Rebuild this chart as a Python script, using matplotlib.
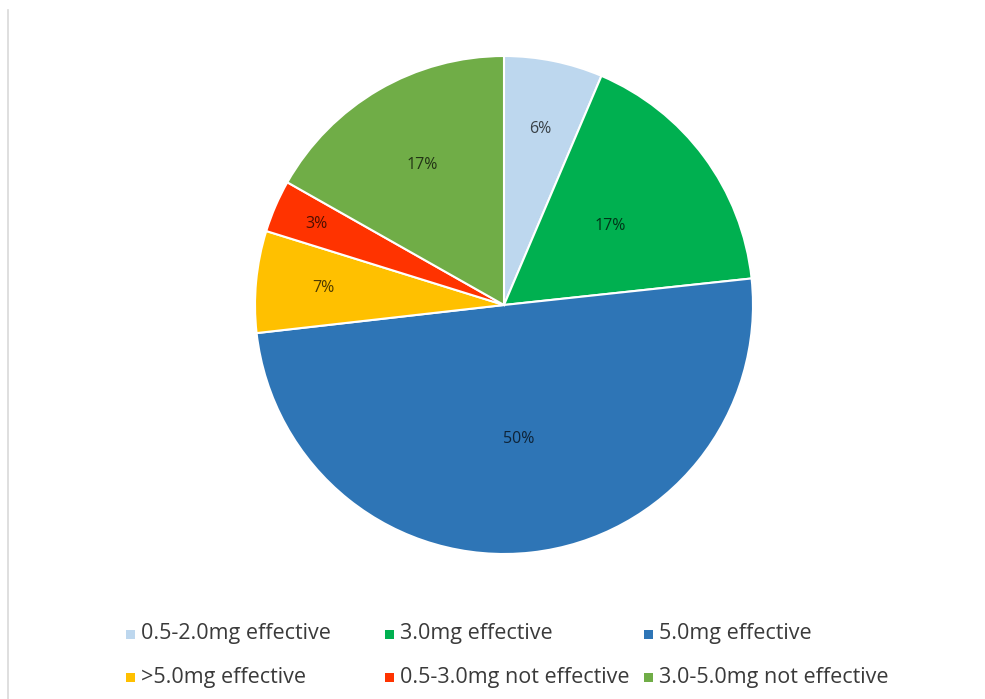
import numpy as np
import matplotlib.pyplot as plt
from matplotlib.patches import Rectangle
from matplotlib.lines import Line2D
from matplotlib.colors import to_rgb

labels = ['0.5-2.0mg effective', '3.0mg effective', '5.0mg effective',
          '>5.0mg effective', '0.5-3.0mg not effective', '3.0-5.0mg not effective']
values = [6.4, 16.9, 49.9, 6.6, 3.4, 16.8]
colors = ['#BDD7EE', '#00B050', '#2E75B6', '#FFC000', '#FF3300', '#70AD47']
# radial position of each percentage label (fraction of radius)
label_r = [0.72, 0.53, 0.54, 0.73, 0.82, 0.65]

plt.rcParams['font.family'] = ['Open Sans', 'DejaVu Sans']

W, H = 985, 699
fig = plt.figure(figsize=(W / 100, H / 100), dpi=100)
fig.patch.set_facecolor('white')

# pie axes: centre (504, 305) px, radius ~249 px
cx, cy, r = 504, 305, 249
ax = fig.add_axes([(cx - r) / W, (H - cy - r) / H, 2 * r / W, 2 * r / H])
wedges, texts, autotexts = ax.pie(values, colors=colors, startangle=90, counterclock=False,
                                  autopct='%.0f%%', pctdistance=0.66, radius=1,
                                  wedgeprops=dict(edgecolor='white', linewidth=1.5),
                                  textprops=dict(fontsize=11.5))
for w, t, c, lr in zip(wedges, autotexts, colors, label_r):
    mid = np.deg2rad((w.theta1 + w.theta2) / 2)
    t.set_position((lr * np.cos(mid), lr * np.sin(mid)))
    t.set_color(tuple(v * 0.3 for v in to_rgb(c)))
ax.set_xlim(-1, 1)
ax.set_ylim(-1, 1)
ax.set_aspect('equal')
ax.axis('off')

# legend drawn as a 3x2 grid of equal-width cells
x0, dx = 130, 259
y0, dy = 634, 43
s = 9
for i, (lab, col) in enumerate(zip(labels, colors)):
    xc = x0 + (i % 3) * dx
    yc = y0 + (i // 3) * dy
    fig.add_artist(Rectangle(((xc - s / 2) / W, (H - yc - s / 2) / H), s / W, s / H,
                             transform=fig.transFigure, facecolor=col, edgecolor='none'))
    fig.text((xc + 11) / W, (H - yc) / H, lab, fontsize=15.5, color='#3A3A3A',
             ha='left', va='center')

# faint frame edge on the left
fig.add_artist(Line2D([8 / W, 8 / W], [0, (H - 10) / H], transform=fig.transFigure,
                      color='#D9D9D9', linewidth=1.2))

fig.savefig('out.png', dpi=100)
